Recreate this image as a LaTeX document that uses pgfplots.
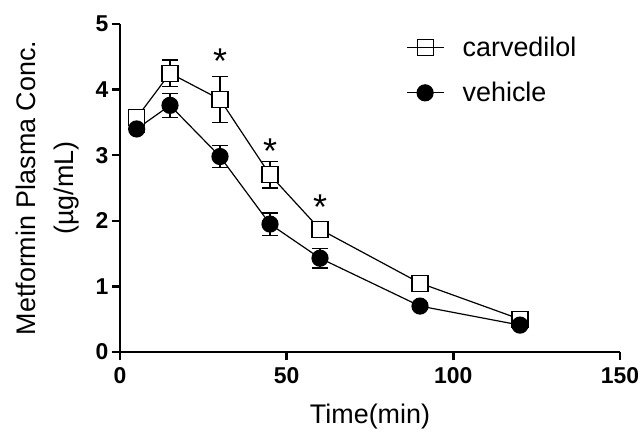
\documentclass[border=0pt]{standalone}
\usepackage{fontspec}
\setmainfont{Liberation Sans}
\usepackage{pgfplots}
\pgfplotsset{compat=1.18}

% time (min), mean conc. (ug/mL), SEM
\pgfplotstableread{
t    y     e
5    3.57  0.12
15   4.25  0.20
30   3.85  0.35
45   2.70  0.20
60   1.87  0.08
90   1.05  0.05
120  0.50  0.05
}\carvedilol
\pgfplotstableread{
t    y     e
5    3.40  0.06
15   3.76  0.18
30   2.98  0.17
45   1.95  0.17
60   1.43  0.15
90   0.70  0.05
120  0.41  0.05
}\vehicle

\begin{document}
\begin{tikzpicture}
\useasboundingbox (-120bp,-80bp) rectangle (524bp,352bp);
\begin{axis}[
    at={(0,0)}, anchor=south west,
    scale only axis,
    width=500bp, height=328bp,
    xmin=0, xmax=150, ymin=0, ymax=5,
    axis x line*=bottom, axis y line*=left,
    axis line style={line width=2.5bp, -},
    xtick={0,50,100,150}, ytick={0,1,2,3,4,5},
    tick style={line width=2.5bp, black},
    tick align=outside, major tick length=8bp,
    ticklabel style={font=\fontsize{23}{25}\selectfont\bfseries},
    xticklabel style={yshift=-4bp},
    /pgf/number format/assume math mode=true,
    xlabel={Time(min)},
    ylabel={Metformin Plasma Conc.\\(µg/mL)},
    xlabel style={at={(axis description cs:0.5,-0.198)}, anchor=center,
        font=\fontsize{27}{30}\selectfont},
    ylabel style={at={(axis description cs:-0.145,0.5)}, anchor=center,
        align=center, font=\fontsize{27}{38}\selectfont},
    clip=false,
    legend style={draw=none, fill=none, at={(axis cs:85,4.86)}, anchor=north west,
        font=\fontsize{27}{30}\selectfont, row sep=20bp,
        /tikz/every odd column/.append style={column sep=16bp}},
    legend cell align=left,
    legend image code/.code={
        \draw[mark repeat=2, mark phase=2]
        plot coordinates {(0bp,0bp) (18bp,0bp) (37bp,0bp)};},
    error bars/error bar style={line width=1.2bp, black},
    error bars/error mark options={rotate=90, mark size=8bp, line width=1.2bp, black},
]
% carvedilol: error bars under white squares, line on top
\addplot[forget plot, only marks, mark=square*, mark size=8bp,
    mark options={fill=white, draw=black, line width=1.2bp},
    error bars/.cd, y dir=both, y explicit]
    table[x=t, y=y, y error=e] {\carvedilol};
\addplot[forget plot, black, line width=1.2bp, no markers]
    table[x=t, y=y] {\carvedilol};
% vehicle
\addplot[forget plot, black, line width=1.2bp, mark=*, mark size=8bp,
    error bars/.cd, y dir=both, y explicit]
    table[x=t, y=y, y error=e] {\vehicle};

\addlegendimage{black, line width=1.2bp, mark=square, mark size=8bp}
\addlegendentry{carvedilol}
\addlegendimage{black, line width=1.2bp, mark=*, mark size=8bp}
\addlegendentry{vehicle}

\node[font=\fontsize{36}{40}\selectfont] at (axis cs:30,4.43) {*};
\node[font=\fontsize{36}{40}\selectfont] at (axis cs:45,3.06) {*};
\node[font=\fontsize{36}{40}\selectfont] at (axis cs:60,2.21) {*};
\end{axis}
\end{tikzpicture}
\end{document}
